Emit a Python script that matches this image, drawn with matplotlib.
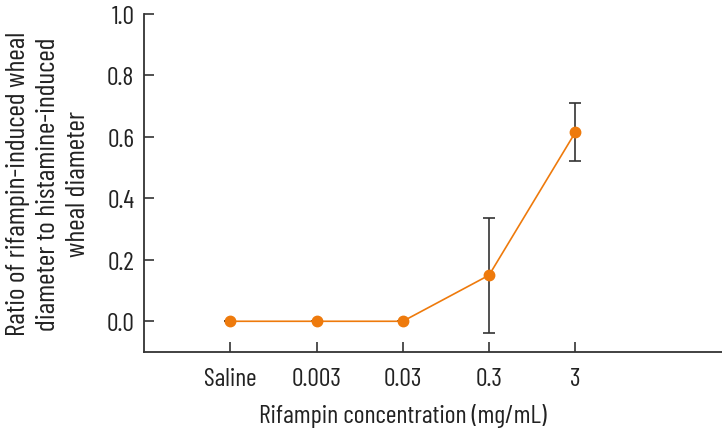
import matplotlib
matplotlib.use("Agg")
import matplotlib.pyplot as plt
from matplotlib import font_manager

categories = ["Saline", "0.003", "0.03", "0.3", "3"]
ratio_mean = [0.0, 0.0, 0.0, 0.15, 0.615]
ratio_err = [0.0, 0.0, 0.0, 0.187, 0.094]
yticks = [0.0, 0.2, 0.4, 0.6, 0.8, 1.0]
ylabel_lines = ["Ratio of rifampin-induced wheal",
                "diameter to histamine-induced",
                "wheal diameter"]
xlabel = "Rifampin concentration (mg/mL)"

names = {f.name for f in font_manager.fontManager.ttflist}
fam = "DejaVu Sans"
for cand in ["Barlow Condensed", "Roboto Condensed", "Archivo Narrow", "PT Sans Narrow",
             "Fira Sans Condensed", "Liberation Sans Narrow"]:
    if cand in names:
        fam = cand
        break
plt.rcParams['font.family'] = [fam, 'DejaVu Sans']

W, H = 722, 435
fig = plt.figure(figsize=(W/100, H/100), dpi=100)
ax = fig.add_axes([144/W, 82/H, 1 - 144/W, (353-15)/H])

x = list(range(len(categories)))
ax.errorbar(x, ratio_mean, yerr=ratio_err,
            fmt='none', ecolor='#333333', elinewidth=1.2, capsize=4.2, capthick=1.2, zorder=2)
ax.plot(x, ratio_mean, color='#EE7A0C', lw=1.2, marker='o', ms=7.5,
        markeredgecolor='#EE7A0C', zorder=3)

xlo, xhi = -1, 5.7
ax.set_xlim(xlo, xhi)
ax.set_ylim(-0.1, 1.0)
ax.set_xticks(x)
ax.set_xticklabels(categories)
ax.set_yticks(yticks)
ax.set_yticklabels([f"{t:.1f}" for t in yticks])

for s in ['top', 'right']:
    ax.spines[s].set_visible(False)
for s in ['left', 'bottom']:
    ax.spines[s].set_color('#333333')
    ax.spines[s].set_linewidth(1.3)

ax.tick_params(axis='both', direction='in', length=7, width=1.2, color='#333333',
               labelsize=18.5, labelcolor='#222222')
ax.tick_params(axis='x', pad=11)
ax.tick_params(axis='y', pad=7)

xc = ((x[0] + x[-1]) / 2 - xlo) / (xhi - xlo)
ax.set_xlabel(xlabel, fontsize=18.7, color='#222222', labelpad=9, x=xc)

for px, line in zip([25, 55, 85], ylabel_lines):
    fig.text(px / W, 1 - 184 / H, line, rotation=90, rotation_mode='anchor',
             ha='center', va='baseline', fontsize=20, color='#222222')

fig.savefig("out.png", dpi=100)
